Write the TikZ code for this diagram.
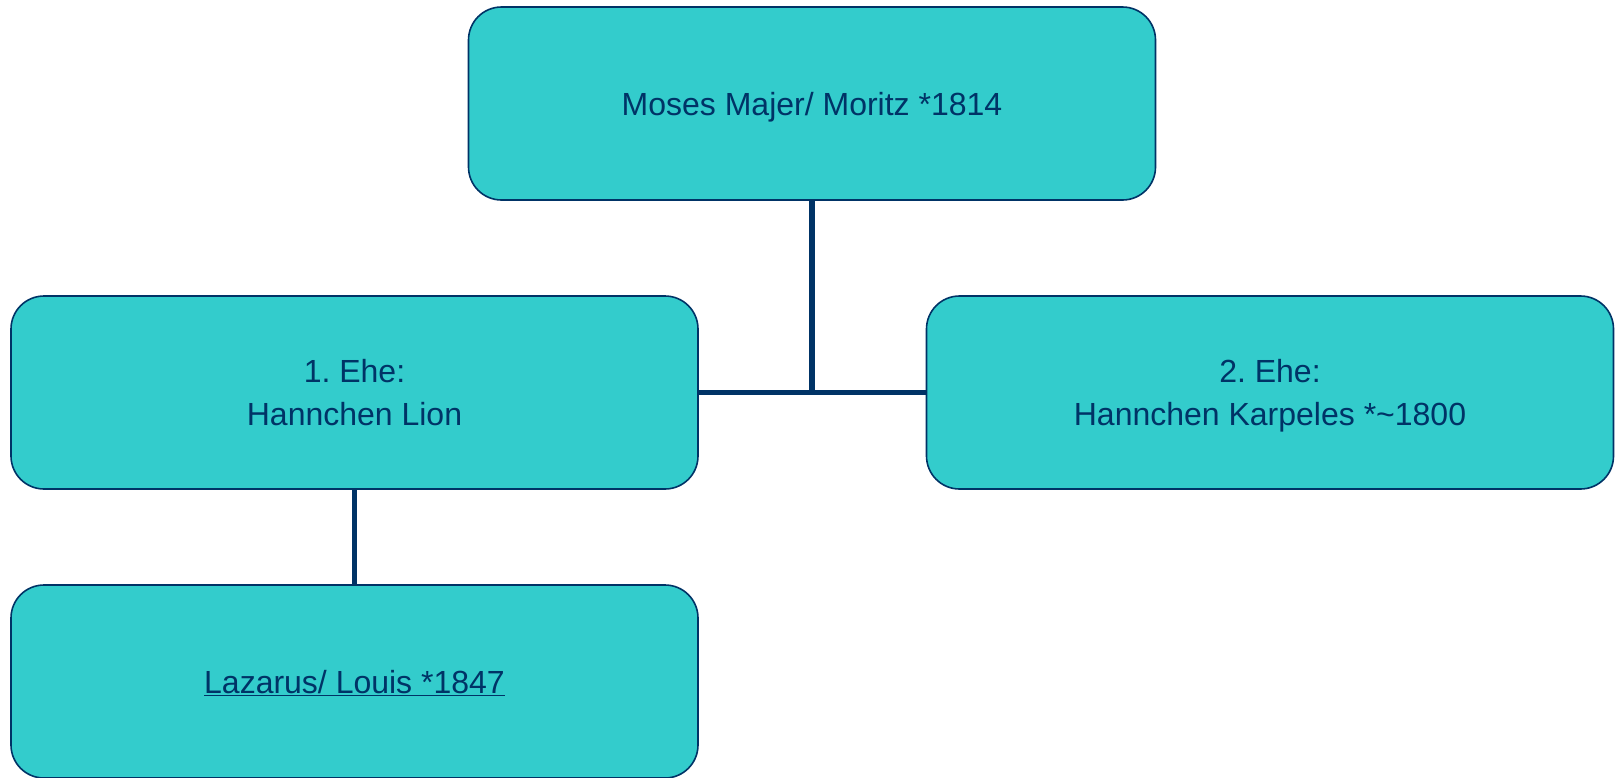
\documentclass[tikz,border=0pt]{standalone}
\usepackage{fontspec}
\setmainfont{Liberation Sans}
\usetikzlibrary{positioning}
\definecolor{boxfill}{HTML}{33CCCC}
\definecolor{navy}{HTML}{003366}
\frenchspacing

\begin{document}
\begin{tikzpicture}[x=1pt,y=-1pt,node distance=289pt,on grid,
  person/.style={draw=navy,line width=1.6pt,fill=boxfill,rounded corners=33pt,
    minimum width=687pt,minimum height=193pt,align=center,text=navy,
    text depth=0pt,font=\fontsize{32}{43}\selectfont},
  link/.style={draw=navy,line width=5.5pt}]
  \useasboundingbox (0,0) rectangle (1619,777);
  \node[person] (moses) at (812,103.5) {Moses Majer/ Moritz *1814};
  \node[person] (lion) [below left=289pt and 457.5pt of moses] {1. Ehe:\\Hannchen Lion};
  \node[person] (karpeles) [below right=289pt and 458pt of moses] {2. Ehe:\\Hannchen Karpeles *\textasciitilde1800};
  \node[person] (lazarus) [below=of lion] {\underline{Lazarus/ Louis *1847}};
  \coordinate (join) at (moses.south |- lion.east);
  \draw[link] (lion.east) -- (karpeles.west);
  \draw[link] (moses.south) -- (join);
  \draw[link] (lion.south) -- (lazarus.north);
\end{tikzpicture}
\end{document}
